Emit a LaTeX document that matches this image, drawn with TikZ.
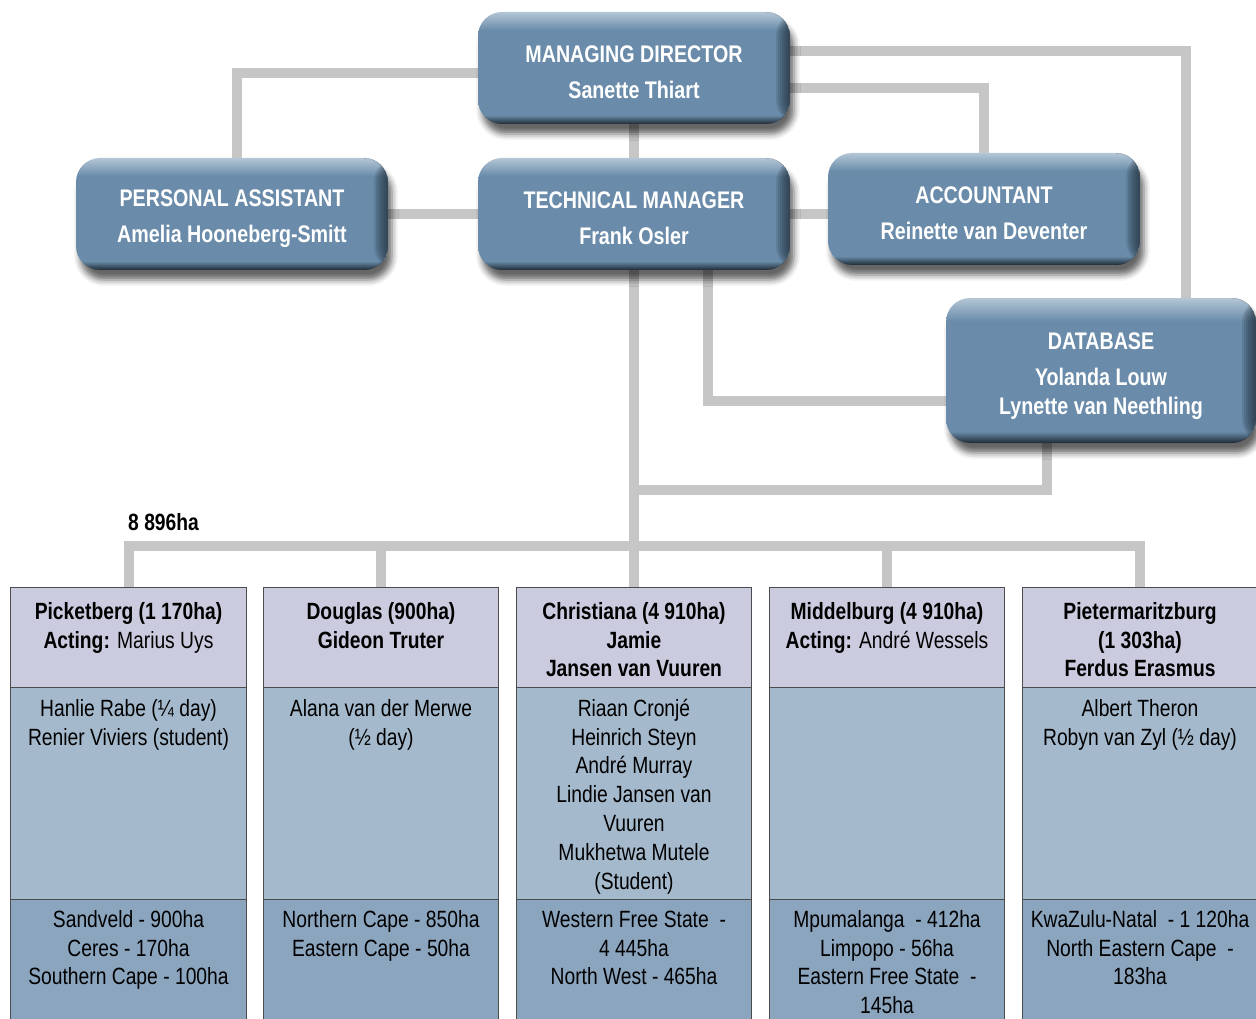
\documentclass[tikz,border=0pt]{standalone}
\usepackage{fontspec}
\setmainfont{Liberation Sans}[FakeStretch=0.82]
\usetikzlibrary{calc,backgrounds,shadows.blur}
\definecolor{bxmain}{HTML}{6A8CAA}
\definecolor{bxtop}{HTML}{B4C6D6}
\definecolor{bxdark}{HTML}{1E2A35}
\definecolor{conncol}{HTML}{C6C6C6}
\definecolor{hdrcol}{HTML}{CBCBDF}
\definecolor{bdycol}{HTML}{A5B9CD}
\definecolor{ftrcol}{HTML}{8BA5BF}
\pgfdeclareverticalshading{boxshade}{100bp}{color(0bp)=(bxdark); color(25bp)=(bxdark); color(29bp)=(bxmain); color(67bp)=(bxmain); color(75bp)=(bxtop); color(100bp)=(bxtop)}
\tikzset{
  orgbox/.style={rounded corners=24pt, minimum width=312pt, minimum height=112pt,
    shade, shading=boxshade,
    blur shadow={shadow xshift=4pt, shadow yshift=-10pt, shadow blur radius=6pt, shadow opacity=60},
    text=white, font=\bfseries\fontsize{24}{29}\selectfont, align=center, inner sep=0pt,
    path picture={\foreach \k in {1,...,7}{\fill[bxdark, opacity=0.15]
      ([xshift=-2*\k pt]path picture bounding box.north east) rectangle (path picture bounding box.south east);}}},
  conn/.style={draw=conncol, line width=10pt},
  cellbase/.style={draw=black!70, line width=0.8pt, minimum width=235.5pt, inner sep=0pt},
  hcell/.style={cellbase, fill=hdrcol, minimum height=100pt},
  bcell/.style={cellbase, fill=bdycol, minimum height=212pt},
  fcell/.style={cellbase, fill=ftrcol, minimum height=141pt},
  celltext/.style={font=\fontsize{23.5}{28.8}\selectfont, align=center, anchor=north, inner sep=0pt}
}
\newcommand{\hiup}[1]{\rule{0pt}{#1}}
\begin{document}
\begin{tikzpicture}[x=1pt,y=-1pt]
\clip (0,0) rectangle (1256,1019);

% table cells
\foreach \i/\cx in {1/128.5,2/381,3/634,4/887,5/1140}{
  \node[hcell] (h\i) at (\cx,637) {};
  \node[bcell] (b\i) at (\cx,793) {};
  \node[fcell] (f\i) at (\cx,969.5) {};
}

% boxes
\node[orgbox] (md) at (634,68) {\hiup{25pt}MANAGING DIRECTOR\\[7pt]Sanette Thiart};
\node[orgbox] (pa) at (232,214) {\hiup{27pt}PERSONAL ASSISTANT\\[7pt]Amelia Hooneberg-Smitt};
\node[orgbox] (tm) at (634,214) {\hiup{25pt}TECHNICAL MANAGER\\[7pt]Frank Osler};
\node[orgbox] (acc) at (984,209) {\hiup{25pt}ACCOUNTANT\\[7pt]Reinette van Deventer};
\node[orgbox, minimum width=310pt, minimum height=145pt] (db) at (1101,370.5) {\hiup{29pt}DATABASE\\[7pt]Yolanda Louw\\Lynette van Neethling};

\coordinate (j1) at (634,490);
\coordinate (bus) at (634,546);

\begin{scope}[on background layer]
  \draw[conn] ($(md.west)+(0,5)$) -| ($(pa.north)+(5,0)$);
  \draw[conn] (md.south) -- (tm.north);
  \draw[conn] ($(md.east)+(0,-17)$) -| ($(db.north)+(85,0)$);
  \draw[conn] ($(md.east)+(0,20)$) -| (acc.north);
  \draw[conn] (pa.east) -- (tm.west);
  \draw[conn] (tm.east) -- (tm.east -| acc.west);
  \draw[conn] (tm.south) -- (h3.north);
  \draw[conn] ($(tm.south)+(74,0)$) |- ($(db.west)+(0,30)$);
  \draw[conn] ($(db.south)+(-54,0)$) |- (j1);
  \draw[conn] (h1.north) -- (h1.north |- bus) -- (h5.north |- bus) -- (h5.north);
  \draw[conn] (h2.north) -- (h2.north |- bus);
  \draw[conn] (h4.north) -- (h4.north |- bus);
\end{scope}

\node[font=\bfseries\fontsize{23.5}{28}\selectfont, anchor=west, inner sep=0pt] (tot) at (128,522) {8 896ha};

% header texts
\node[celltext] (th1) at ($(h1.north)+(0,12.3)$) {\strut\textbf{Picketberg (1 170ha)}\\\textbf{Acting:} Marius Uys};
\node[celltext] (th2) at ($(h2.north)+(0,12.3)$) {\strut\textbf{Douglas (900ha)}\\\textbf{Gideon Truter}};
\node[celltext] (th3) at ($(h3.north)+(0,12.3)$) {\strut\textbf{Christiana (4 910ha)}\\\textbf{Jamie}\\\textbf{Jansen van Vuuren}};
\node[celltext] (th4) at ($(h4.north)+(0,12.3)$) {\strut\textbf{Middelburg (4 910ha)}\\\textbf{Acting:} André Wessels};
\node[celltext] (th5) at ($(h5.north)+(0,12.3)$) {\strut\textbf{Pietermaritzburg}\\\textbf{(1 303ha)}\\\textbf{Ferdus Erasmus}};

% body texts
\node[celltext] (tb1) at ($(b1.north)+(0,9.3)$) {\strut Hanlie Rabe (¼ day)\\Renier Viviers (student)};
\node[celltext] (tb2) at ($(b2.north)+(0,9.3)$) {\strut Alana van der Merwe\\(½ day)};
\node[celltext] (tb3) at ($(b3.north)+(0,9.3)$) {\strut Riaan Cronjé\\Heinrich Steyn\\André Murray\\Lindie Jansen van\\Vuuren\\Mukhetwa Mutele\\(Student)};
\node[celltext] (tb5) at ($(b5.north)+(0,9.3)$) {\strut Albert Theron\\Robyn van Zyl (½ day)};

% footer texts
\node[celltext] (tf1) at ($(f1.north)+(0,8.3)$) {\strut Sandveld - 900ha\\Ceres - 170ha\\Southern Cape - 100ha};
\node[celltext] (tf2) at ($(f2.north)+(0,8.3)$) {\strut Northern Cape - 850ha\\Eastern Cape - 50ha};
\node[celltext] (tf3) at ($(f3.north)+(0,8.3)$) {\strut Western Free State~ -\\4 445ha\\North West - 465ha};
\node[celltext] (tf4) at ($(f4.north)+(0,8.3)$) {\strut Mpumalanga~ - 412ha\\Limpopo - 56ha\\Eastern Free State~ -\\145ha};
\node[celltext] (tf5) at ($(f5.north)+(0,8.3)$) {\strut KwaZulu-Natal~ - 1 120ha\\North Eastern Cape~ -\\183ha};
\end{tikzpicture}
\end{document}
